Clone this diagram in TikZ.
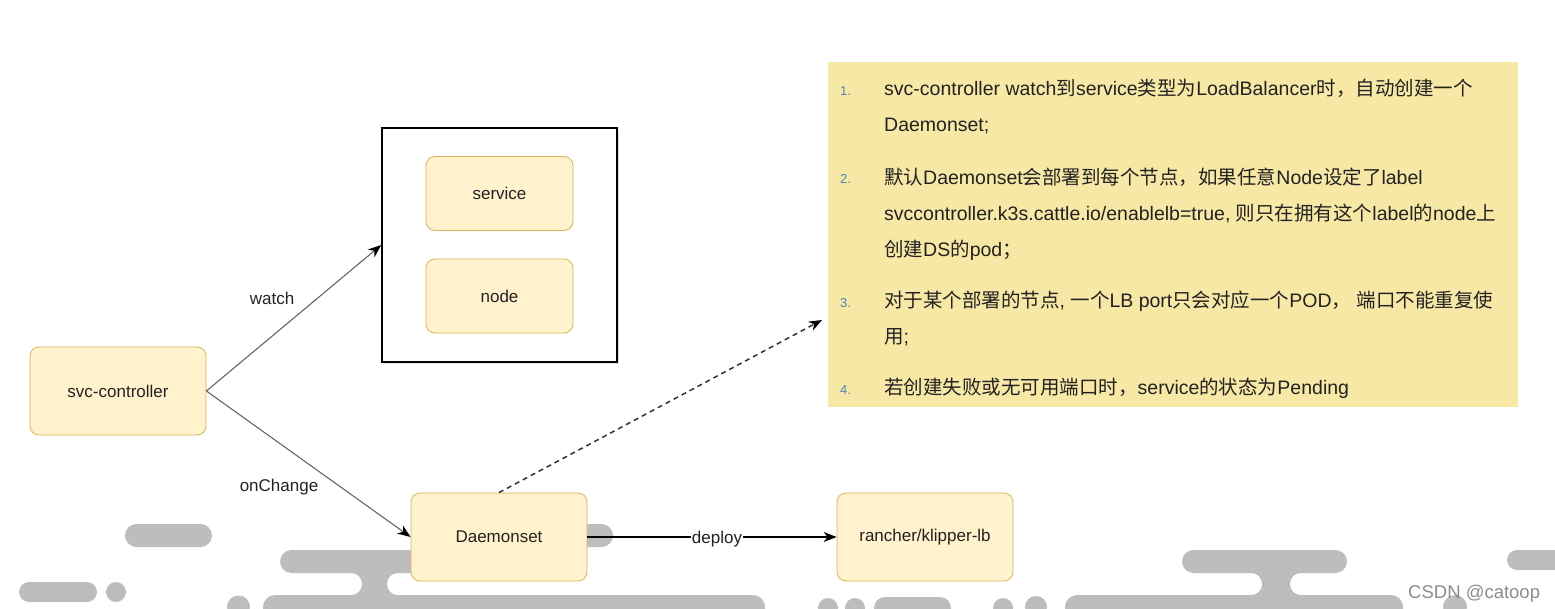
\documentclass[tikz,border=0pt]{standalone}
\usepackage{fontspec}
\setmainfont{Liberation Sans}
\newfontfamily\cjk{Noto Sans CJK SC}
\newcommand{\zh}[1]{{\cjk #1}}
\usepackage{xcolor}
\usetikzlibrary{positioning,arrows.meta,shadows}

\definecolor{boxfill}{HTML}{FFF2CC}
\definecolor{boxline}{HTML}{D6B656}
\definecolor{notefill}{HTML}{F8E8A6}
\definecolor{numblue}{HTML}{4A86C0}
\definecolor{decogray}{HTML}{BDBDBD}
\definecolor{txt}{HTML}{222222}
\definecolor{linkgray}{HTML}{666666}

\begin{document}
\begin{tikzpicture}[x=1pt, y=-1pt, >=Stealth,
  every node/.style={text=txt},
  box/.style={draw=boxline, fill=boxfill, rounded corners=9pt, line width=0.8pt,
              minimum width=176pt, minimum height=88pt, align=center,
              font=\fontsize{17}{20}\selectfont},
  inbox/.style={box, minimum width=147pt, minimum height=74pt},
  lbl/.style={font=\fontsize{17}{20}\selectfont},
  item/.style={anchor=base west, align=left, inner sep=0pt,
               font=\fontsize{19.5}{36}\selectfont},
  num/.style={anchor=base west, inner sep=0pt, text=numblue,
              font=\fontsize{13}{15}\selectfont},
  link/.style={draw=linkgray, line width=1.1pt,
               -{Stealth[length=13pt, width=10pt, inset=4pt, color=black]}},
  deco/.style={fill=decogray}]

  \useasboundingbox (0,0) rectangle (1555,608);

  %% ─── Background blobs ──────────────────────────────────────────────────
  \begin{scope}
    \clip (0,0) rectangle (1555,608);
    % stems with rounded gaps
    \fill[deco] (351,565) rectangle (398,600);
    \fill[deco] (1251,565) rectangle (1301,600);
    \fill[white, rounded corners=11pt] (200,573) rectangle (362,595);
    \fill[white, rounded corners=11pt] (387,573) rectangle (480,595);
    \fill[white, rounded corners=11pt] (1120,573) rectangle (1262,595);
    \fill[white, rounded corners=11pt] (1290,573) rectangle (1420,595);
    % bars
    \fill[deco, rounded corners=11.5pt] (125,524) rectangle (212,547);
    \fill[deco, rounded corners=11.5pt] (480,524) rectangle (613,547);
    \fill[deco, rounded corners=11.5pt] (280,550) rectangle (520,573);
    \fill[deco, rounded corners=11.5pt] (1182,550) rectangle (1347,573);
    \fill[deco, rounded corners=10pt] (1507,550) rectangle (1590,570);
    \fill[deco, rounded corners=10pt] (19,582) rectangle (97,602);
    \fill[deco] (116,592) circle[radius=10pt];
    \fill[deco] (238.5,607) circle[radius=11.5pt];
    \fill[deco, rounded corners=12pt] (263,595) rectangle (765,625);
    \fill[deco] (828,608) circle[radius=10pt];
    \fill[deco] (855,608) circle[radius=10pt];
    \fill[deco, rounded corners=11pt] (874,597) rectangle (951,625);
    \fill[deco] (1003,608) circle[radius=10pt];
    \fill[deco] (1036,607) circle[radius=11pt];
    \fill[deco, rounded corners=12pt] (1065,595) rectangle (1403,625);
    \fill[deco] (1455,607) circle[radius=12pt];
  \end{scope}

  %% ─── Diagram ───────────────────────────────────────────────────────────
  \node[box]                         (svc)     at (118,391) {svc-controller};
  \node[draw=black, fill=white, line width=1.5pt, minimum width=235pt,
        minimum height=234pt,
        drop shadow={opacity=0.25, shadow xshift=2pt, shadow yshift=-2pt}]
                                     (frame)   at (499.5,245) {};
  \node[inbox]                       (service) at (499.5,193.5) {service};
  \node[inbox]                       (nodebox) at (499.5,296) {node};
  \node[box]                         (daemon)  at (499,537) {Daemonset};
  \node[box]                         (klipper) at (925,537) {rancher/klipper-lb};
  \coordinate                        (notein)  at (822,320);

  \draw[link] (svc.east) -- (frame.west);
  \draw[link] (svc.east) -- (daemon.west);
  \node[lbl] (watchlbl)  at (272,298) {watch};
  \node[lbl] (changelbl) at (279,487) {onChange};
  \draw[link, draw=black, line width=1.2pt] (daemon.east) --
      node[lbl, fill=white, inner sep=1pt, pos=0.52, yshift=-2pt]{deploy} (klipper.west);
  \draw[link, draw=black!80, line width=1.5pt, dash pattern=on 5pt off 4pt]
      (daemon.north) -- (notein);

  %% ─── Notes ─────────────────────────────────────────────────────────────
  \fill[notefill] (828,62) rectangle (1518,407);
  \node[num] (n1) at (840,95) {1.};
  \node[item] (it1) at (884,131)
    {svc-controller watch\zh{到}service\zh{类型为}LoadBalancer\zh{时，自动创建一个}\\
     Daemonset;};
  \node[num] (n2) at (840,183) {2.};
  \node[item] (it2) at (884,256)
    {\zh{默认}Daemonset\zh{会部署到每个节点，如果任意}Node\zh{设定了}label\\
     svccontroller.k3s.cattle.io/enablelb=true, \zh{则只在拥有这个}label\zh{的}node\zh{上}\\
     \zh{创建}DS\zh{的}pod\zh{；}};
  \node[num] (n3) at (840,307) {3.};
  \node[item] (it3) at (884,343)
    {\zh{对于某个部署的节点}, \zh{一个}LB port\zh{只会对应一个}POD\zh{，} \zh{端口不能重复使}\\
     \zh{用};};
  \node[num] (n4) at (840,394) {4.};
  \node[item] (it4) at (884,394)
    {\zh{若创建失败或无可用端口时，}service\zh{的状态为}Pending};

  \node[anchor=base west, inner sep=0pt, text=gray!90,
        font=\fontsize{18.5}{20}\selectfont] (mark) at (1408,598) {CSDN @catoop};
\end{tikzpicture}
\end{document}
